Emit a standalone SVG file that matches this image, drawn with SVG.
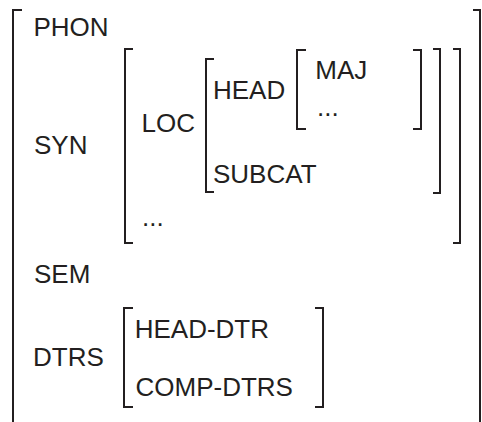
<svg xmlns="http://www.w3.org/2000/svg" width="482" height="422" viewBox="0 0 482 422">
<style>
.br{fill:none;stroke:#231f20;stroke-width:2;stroke-linecap:butt;stroke-linejoin:miter}
.t{font-family:"Liberation Sans",Arial,Helvetica,sans-serif;font-size:26px;fill:#231f20}
</style>
<rect width="482" height="422" fill="#ffffff"/>
<g id="brackets">
<path class="br" d="M22,10 H13 V422"/>
<path class="br" d="M473,10 H480 V422"/>
<path class="br" d="M133,49 H125 V243 H133"/>
<path class="br" d="M453,49 H460 V243 H453"/>
<path class="br" d="M214,59 H206 V192 H214"/>
<path class="br" d="M433,49 H440 V193 H433"/>
<path class="br" d="M306,50 H297 V129 H306"/>
<path class="br" d="M413,50 H421 V129 H413"/>
<path class="br" d="M133,308 H124 V407 H133"/>
<path class="br" d="M315,308 H323 V407 H315"/>
</g>
<g id="labels">
<text class="t" x="33.5" y="36">PHON</text>
<text class="t" x="34" y="154">SYN</text>
<text class="t" x="141.5" y="132">LOC</text>
<text class="t" x="213" y="99">HEAD</text>
<text class="t" x="315.3" y="79">MAJ</text>
<text class="t" x="317" y="116">...</text>
<text class="t" x="213" y="183">SUBCAT</text>
<text class="t" x="142" y="226">...</text>
<text class="t" x="34" y="283">SEM</text>
<text class="t" x="33" y="366">DTRS</text>
<text class="t" x="134.7" y="338">HEAD-DTR</text>
<text class="t" x="135.5" y="396">COMP-DTRS</text>
</g>
</svg>
